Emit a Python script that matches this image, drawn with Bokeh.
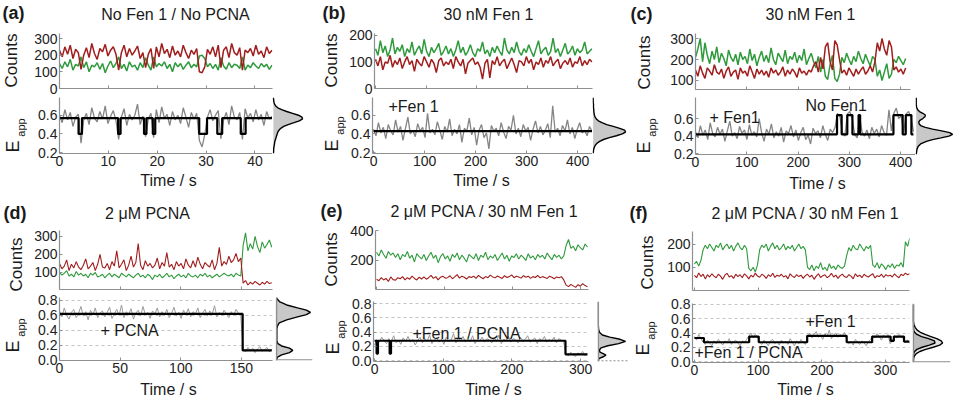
import numpy as np
from math import pi
from bokeh.plotting import figure
from bokeh.layouts import row, column
from bokeh.models import Label, Span, FixedTicker, PrintfTickFormatter, Range1d
from bokeh.embed import file_html
from bokeh.resources import INLINE

FONT = "Liberation Sans"
RED = "#a11d1d"
GREEN = "#2f9a3c"
AXIS = "#8f8f8f"
HISTFILL = "#c8c8c8"

# ---------------- data ----------------
# (a) No Fen1 / No PCNA
a_T = 43.5
a_red = [230,190,250,205,260,180,235,215,115,200, 245,185,270,210,175,240,220,265,195,230,
         250,205,110,215,260,190,240,200,225,255, 180,215,125,205,240,120,250,190,270,210,
         235,185,255,200,225,190,260,215,180,230, 205,240,100,95,130,235,205,250,190,260,
         125,230,250,185,270,215,200,245,110,230, 215,240,195,260,205,225,185,250,210,230]
a_green = [150,120,160,130,175,110,145,135,190,125, 160,100,140,130,155,115,150,95,135,165,
           125,150,190,120,145,105,160,130,140,110, 155,125,185,140,110,190,130,150,135,160,
           120,145,100,155,130,150,115,140,160,125, 145,130,195,200,180,130,150,120,145,110,
           185,135,115,155,125,145,140,120,190,110, 140,125,155,135,120,150,130,145,115,140]
a_eapp = [.60,.52,.66,.55,.63,.48,.58,.61,.30,.55, .62,.50,.68,.57,.53,.64,.56,.70,.51,.59,
          .65,.54,.34,.58,.67,.49,.61,.55,.60,.72, .50,.59,.37,.56,.62,.36,.66,.52,.69,.57,
          .61,.49,.64,.55,.60,.51,.68,.58,.47,.63, .56,.62,.33,.26,.39,.58,.66,.54,.60,.65,
          .35,.55,.63,.50,.70,.58,.55,.63,.34,.67, .57,.62,.53,.66,.55,.61,.49,.64,.56,.59]
a_step_t = [0,3.9,4.6,12.0,12.5,17.3,17.8,19.1,19.6,28.6,30.2,32.3,33.3,37.1,38.1,43.5]
a_step_e = [.57,.40,.57,.40,.57,.40,.57,.40,.57,.40,.57,.40,.57,.40,.57,.57]
a_hist_e = [.19,.22,.24,.26,.28,.30,.32,.34,.36,.38,.40,.42,.44,.46,.48,.50,.52,.54,.56,.58,
            .60,.62,.64,.66,.68,.70,.72,.74,.76,.79]
a_hist_d = [0,.01,.01,.02,.03,.04,.05,.07,.09,.11,.13,.15,.19,.25,.35,.50,.70,.88,.99,.97,
            .85,.65,.45,.28,.15,.08,.04,.02,.01,0]
a_xticks = [0,10,20,30,40]
a_cticks = [0,100,200,300]
a_eticks = [0.2,0.4,0.6]

# (b) 30 nM Fen1
b_T = 428
b_green = [150,125,180,135,160,120,145,190,130,155, 140,165,120,150,135,175,125,145,160,130,
           185,140,120,155,135,150,170,125,140,160, 130,150,120,145,180,135,155,125,140,165,
           135,120,150,140,175,130,145,120,155,135, 160,140,125,190,145,130,155,135,175,140,
           125,150,135,165,140,120,150,180,130,145, 155,125,140,190,135,150,120,145,170,130,
           140,160,125,150,135,145,175,130,140,150]
b_red = [110,85,120,70,100,95,125,80,105,90, 115,75,100,120,90,105,65,110,95,85,
         120,100,80,110,95,60,105,115,85,100, 90,110,75,120,100,85,110,55,95,105,
         115,90,100,80,35,95,110,40,105,90, 120,85,100,110,75,95,115,90,60,105,
         100,85,120,95,110,70,100,90,115,80, 105,95,120,85,100,110,75,95,105,90,
         115,80,100,95,120,85,105,90,110,100]
b_eapp = [.45,.38,.52,.41,.47,.35,.50,.43,.39,.55, .42,.48,.33,.46,.58,.40,.44,.37,.51,.43,
          .47,.36,.62,.41,.45,.39,.53,.44,.34,.48, .42,.56,.38,.45,.40,.50,.31,.46,.43,.57,
          .39,.47,.28,.44,.50,.36,.41,.24,.49,.43, .46,.38,.52,.42,.35,.48,.44,.60,.40,.46,
          .37,.50,.43,.47,.33,.45,.54,.41,.48,.39, .44,.51,.36,.70,.42,.46,.38,.49,.43,.55,
          .40,.47,.35,.45,.52,.41,.44,.38,.48,.43]
b_step_t = [0,428]
b_step_e = [.43,.43]
b_hist_e = a_hist_e
b_hist_d = [0,.01,.02,.04,.07,.12,.20,.32,.50,.72,.90,1.0,.97,.82,.62,.42,.27,.16,.10,.06,
            .04,.03,.02,.02,.01,.01,.01,0,0,0]
b_xticks = [0,100,200,300,400]
b_cticks = [0,100,200]
b_eticks = [0.2,0.4,0.6]

# (c) 30 nM Fen1
c_Tc = 410
c_Te = 425
c_green = [210,250,300,190,280,220,180,240,200,260, 185,230,205,170,245,210,190,225,175,235,
           200,215,180,250,195,225,170,210,240,190, 220,185,255,200,175,230,210,190,245,180,
           215,200,235,185,220,195,250,175,205,230, 190,160,215,140,200,120,105,175,220,110,
           95,130,210,185,230,200,175,215,190,240, 205,180,225,195,170,215,200,120,150,100,
           140,180,110,130,200,185,215,195,175,205]
c_red = [150,120,170,135,110,160,145,125,175,140, 130,155,110,145,165,120,140,150,105,160,
         135,145,120,170,140,110,155,130,150,125, 145,115,160,135,150,125,140,165,120,150,
         130,155,140,115,160,135,145,125,150,140, 170,190,140,210,155,260,280,190,150,290,
         270,200,135,150,125,160,140,120,155,130, 150,165,130,145,170,140,190,280,240,300,
         250,220,290,260,150,165,140,155,130,160]
c_eapp = [.45,.38,.52,.41,.47,.36,.55,.43,.39,.50, .42,.48,.34,.46,.57,.40,.44,.37,.51,.43,
          .47,.36,.53,.41,.45,.39,.60,.44,.34,.48, .42,.54,.38,.45,.40,.50,.33,.46,.43,.52,
          .39,.47,.35,.44,.50,.36,.41,.31,.49,.43, .46,.38,.52,.42,.35,.48,.44,.50,.66,.62,
          .44,.40,.65,.68,.60,.42,.38,.63,.45,.40, .47,.37,.50,.43,.48,.39,.52,.44,.41,.70,
          .46,.66,.72,.60,.63,.44,.65,.68,.62,.45]
c_step_t = [0,276,285,296,306,318,321,386,404,410,421,425]
c_step_e = [.42,.64,.42,.64,.42,.64,.42,.64,.42,.64,.42,.42]
c_hist_e = [.19,.22,.25,.28,.31,.34,.36,.38,.40,.42,.44,.46,.48,.50,.52,.54,.56,.58,.60,.62,
            .64,.66,.68,.70,.73,.76,.84]
c_hist_d = [0,.01,.02,.05,.12,.28,.45,.68,.90,1.0,.92,.70,.45,.25,.12,.08,.07,.10,.18,.24,
            .25,.18,.09,.04,.01,0,0]
c_xticks = [0,100,200,300,400]
c_cticks = [100,200,300]
c_eticks = [0.2,0.4,0.6]

# (d) 2 uM PCNA
d_T = 175
d_red = [150,120,135,170,110,145,125,160,130,115, 140,175,120,135,155,110,145,200,130,125,
         150,115,160,135,220,125,145,170,110,140, 190,130,155,260,140,115,165,135,150,125,
         140,180,120,155,135,210,130,145,115,160, 135,150,120,175,140,125,165,130,185,145,
         120,155,140,130,170,115,150,240,135,160, 145,190,155,170,205,160,180,40,55,30,
         45,35,50,40,30,45,35,50,38,42]
d_green = [100,85,95,110,80,90,75,105,85,95, 80,90,70,95,85,100,75,80,90,70,
           85,95,75,90,80,70,95,85,75,90, 80,70,85,95,75,85,70,90,80,60,
           85,75,90,70,80,95,75,85,65,80, 90,75,85,70,95,80,75,85,70,90,
           80,95,75,85,70,80,90,75,85,95, 85,80,90,75,95,85,80,250,320,220,
           260,230,300,245,210,270,235,255,280,240]
d_eapp = [.66,.58,.70,.60,.55,.64,.68,.57,.63,.72, .59,.65,.54,.67,.61,.70,.57,.63,.66,.58,
          .64,.71,.56,.62,.68,.60,.74,.57,.65,.61, .69,.55,.63,.67,.59,.72,.61,.64,.56,.66,
          .62,.70,.58,.65,.60,.68,.57,.63,.71,.59, .64,.56,.67,.61,.69,.58,.65,.62,.70,.57,
          .63,.68,.59,.66,.61,.73,.58,.64,.60,.67, .62,.57,.65,.60,.68,.63,.59,.15,.11,.17,
          .13,.16,.10,.15,.18,.12,.14,.17,.11,.15]
d_step_t = [0,151,175]
d_step_e = [.62,.13,.13]
d_hist_e = [0,.04,.07,.10,.13,.16,.19,.22,.26,.30,.34,.38,.42,.46,.50,.54,.58,.61,.64,.67,
            .70,.74,.78,.82,.84]
d_hist_d = [0,.03,.15,.38,.48,.38,.15,.04,.01,.01,.01,.01,.01,.03,.08,.30,.62,.88,1.0,.88,
            .62,.30,.10,.02,0]
d_xticks = [0,50,100,150]
d_cticks = [100,200,300]
d_eticks = [0.0,0.2,0.4,0.6,0.8]

# (e) 2 uM PCNA / 30 nM Fen1
e_T = 310
e_green = [255,230,270,240,215,260,235,250,220,245, 205,240,225,260,215,235,190,245,225,210,
           240,200,230,255,215,235,185,225,245,210, 230,195,240,220,250,205,235,215,190,240,
           225,210,245,200,235,220,255,205,230,215, 240,200,225,250,210,235,195,230,220,245,
           210,235,220,200,245,215,230,205,240,220, 235,210,250,225,205,240,220,235,210,230,
           300,340,280,295,265,305,285,270,310,290]
e_red = [75,65,85,70,80,60,90,72,68,85, 78,92,70,85,75,95,80,70,88,76,
         90,75,85,100,80,92,70,88,95,82, 85,98,78,90,105,82,95,88,76,92,
         86,95,80,100,88,78,92,85,102,90, 84,96,88,80,98,86,92,104,85,94,
         90,82,98,88,95,80,92,86,100,84, 92,86,80,95,88,78,90,84,92,70,
         35,25,40,30,20,38,28,45,32,25]
e_eapp = [.22,.30,.26,.33,.28,.24,.31,.27,.35,.25, .29,.23,.32,.27,.34,.26,.30,.22,.28,.33,
          .25,.31,.27,.36,.24,.29,.32,.26,.30,.23, .33,.27,.29,.38,.25,.31,.28,.34,.26,.30,
          .27,.35,.24,.30,.28,.33,.26,.31,.29,.25, .32,.27,.36,.24,.30,.28,.34,.26,.31,.29,
          .25,.33,.27,.30,.35,.26,.29,.32,.24,.31, .28,.34,.26,.30,.27,.33,.25,.31,.29,.27,
          .10,.07,.12,.08,.06,.11,.09,.13,.07,.10]
e_step_t = [0,3,5,22,24,278,310]
e_step_e = [.28,.10,.28,.10,.28,.09,.09]
e_hist_e = [0,.03,.06,.08,.10,.12,.15,.18,.21,.24,.27,.30,.33,.36,.40,.44,.50,.60,.70,.82]
e_hist_d = [0,.02,.20,.28,.18,.06,.04,.10,.35,.75,1.0,.80,.42,.15,.04,.01,0,0,0,0]
e_xticks = [0,100,200,300]
e_cticks = [200,400]
e_eticks = [0.0,0.2,0.4,0.6,0.8]

# (f) 2 uM PCNA / 30 nM Fen1
f_T = 338
f_green = [115,125,105,130,175,195,180,200,185,170, 195,185,205,175,190,200,180,195,170,190,
           205,185,175,195,180,95,85,100,80,110, 175,195,185,200,170,190,205,180,195,175,
           185,200,175,190,180,195,170,185,200,180, 190,175,100,90,110,85,105,95,120,90,
           100,85,115,95,105,90,110,100,95,105, 150,185,170,195,180,175,200,185,170,190,
           180,195,110,100,120,95,115,105,90,110, 100,115,95,110,105,120,100,210,190,225]
f_red = [65,55,75,60,70,50,68,58,72,62, 55,70,62,48,66,74,58,64,52,70,
         60,68,55,72,63,50,66,58,75,62, 57,70,64,52,68,60,74,56,66,61,
         70,58,64,50,72,62,56,68,60,66, 52,64,70,58,66,48,62,72,56,64,
         68,55,62,74,58,66,52,64,70,60, 56,68,62,50,72,60,66,55,70,62,
         58,66,72,54,64,60,70,56,68,62, 66,58,72,62,55,70,64,75,68,72]
f_eapp = [.35,.30,.38,.32,.27,.24,.30,.26,.22,.29, .25,.31,.27,.23,.29,.26,.32,.24,.28,.30,
          .26,.22,.29,.27,.31,.36,.40,.33,.38,.34, .27,.24,.30,.26,.22,.29,.31,.25,.28,.23,
          .30,.26,.28,.24,.32,.27,.22,.29,.25,.31, .27,.24,.35,.40,.33,.38,.42,.34,.37,.31,
          .39,.35,.44,.32,.37,.40,.34,.38,.36,.41, .30,.25,.28,.23,.31,.27,.24,.29,.26,.22,
          .28,.31,.36,.33,.39,.35,.30,.37,.34,.38, .25,.29,.36,.33,.38,.35,.32,.27,.30,.25]
f_step_t = [0,15,86,101,177,239,279,308,313,329,338]
f_step_e = [.33,.27,.35,.27,.36,.27,.35,.29,.35,.28,.28]
f_hist_e = [0,.05,.08,.11,.14,.17,.20,.23,.26,.29,.32,.35,.38,.41,.44,.48,.52,.56,.62,.70,.80]
f_hist_outer = [0,.01,.04,.10,.22,.42,.68,.90,1.0,.95,.80,.60,.40,.24,.13,.06,.02,0,0,0,0]
f_hist_inner = [0,0,0,.01,.04,.12,.30,.55,.74,.72,.52,.28,.12,.04,.01,0,0,0,0,0,0]
f_xticks = [0,100,200,300]
f_cticks = [100,200]
f_eticks = [0.0,0.2,0.4,0.6,0.8]

# ---------------- panel geometry / text ----------------
# hosts: "h" header strip, "s" left strip, "f" footer strip, "e" inside the E_app frame
PANELS = [
    dict(box=(0, 0, 320, 199), Hc=97, hH=26, fH=27, sW=27,
         cframe=(59, 272, 33, 88), eframe=(59, 272, 97, 153), hframe=(272, 318),
         cx=(0, 43.6), ex=(0, 43.6), cy=(0, 330), ey=(0.19, 0.79), hx=(-0.03, 1.53),
         Tc=a_T, Te=a_T, red=a_red, green=a_green, eapp=a_eapp, st=a_step_t, se=a_step_e,
         he=a_hist_e, hd=[a_hist_d], xt=a_xticks, ct=a_cticks, et=a_eticks, grid=False,
         hbase=None, light=False,
         texts=[("h", 2, 12, "(a)", 18, 0, "left", True),
                ("h", 175, 14, "No Fen 1 / No PCNA", 16, 0, "center", False),
                ("s", 11, 60, "Counts", 17, 90, "center", False),
                ("s", 12, 146, "E", 18, 90, "center", False),
                ("s", 20, 127, "app", 11, 90, "center", False),
                ("f", 168, 180, "Time / s", 16, 0, "center", False)]),
    dict(box=(320, 0, 308, 199), Hc=97, hH=26, fH=27, sW=26,
         cframe=(372, 592, 33, 88), eframe=(372, 592, 97, 153), hframe=(592, 627),
         cx=(-2, 429), ex=(-2, 429), cy=(0, 207), ey=(0.19, 0.79), hx=(-0.02, 1.06),
         Tc=b_T, Te=b_T, red=b_red, green=b_green, eapp=b_eapp, st=b_step_t, se=b_step_e,
         he=b_hist_e, hd=[b_hist_d], xt=b_xticks, ct=b_cticks, et=b_eticks, grid=False,
         hbase=None, light=False,
         texts=[("h", 322, 12, "(b)", 18, 0, "left", True),
                ("h", 488, 14, "30 nM Fen 1", 16, 0, "center", False),
                ("s", 331, 60, "Counts", 17, 90, "center", False),
                ("s", 331, 145, "E", 18, 90, "center", False),
                ("s", 339, 125, "app", 11, 90, "center", False),
                ("f", 481, 180, "Time / s", 16, 0, "center", False),
                ("e", 388, 106, "+Fen 1", 16, 0, "left", False)]),
    dict(box=(628, 0, 329, 199), Hc=93, hH=26, fH=26, sW=34,
         cframe=(695, 910, 33, 89), eframe=(695, 915, 97, 154), hframe=(915, 955),
         cx=(0, 419.5), ex=(0, 429), cy=(57, 324), ey=(0.19, 0.84), hx=(-0.02, 1.08),
         Tc=c_Tc, Te=c_Te, red=c_red, green=c_green, eapp=c_eapp, st=c_step_t, se=c_step_e,
         he=c_hist_e, hd=[c_hist_d], xt=c_xticks, ct=c_cticks, et=c_eticks, grid=False,
         hbase=None, light=False,
         texts=[("h", 630, 13, "(c)", 18, 0, "left", True),
                ("h", 810, 14, "30 nM Fen 1", 16, 0, "center", False),
                ("s", 644, 62, "Counts", 17, 90, "center", False),
                ("s", 643, 147, "E", 18, 90, "center", False),
                ("s", 651, 127, "app", 11, 90, "center", False),
                ("f", 817, 183, "Time / s", 16, 0, "center", False),
                ("e", 709, 117, "+ Fen1", 16, 0, "left", False),
                ("e", 805, 105, "No Fen1", 16, 0, "left", False)]),
    dict(box=(0, 199, 320, 199), Hc=92, hH=24, fH=19, sW=27,
         cframe=(59, 272, 230, 289), eframe=(59, 272, 297, 360), hframe=(275, 312),
         cx=(0, 175.6), ex=(0, 175.6), cy=(5, 333), ey=(-0.005, 0.84), hx=(-0.03, 1.06),
         Tc=d_T, Te=d_T, red=d_red, green=d_green, eapp=d_eapp, st=d_step_t, se=d_step_e,
         he=d_hist_e, hd=[d_hist_d], xt=d_xticks, ct=d_cticks, et=d_eticks, grid=True,
         hbase="solid", light=True,
         texts=[("h", 3, 212, "(d)", 18, 0, "left", True),
                ("h", 147, 213, "2 μM PCNA", 16, 0, "center", False),
                ("s", 16, 264, "Counts", 17, 90, "center", False),
                ("s", 12, 346, "E", 18, 90, "center", False),
                ("s", 20, 327, "app", 11, 90, "center", False),
                ("f", 168, 389, "Time / s", 16, 0, "center", False),
                ("e", 100, 330, "+ PCNA", 16, 0, "left", False)]),
    dict(box=(320, 199, 308, 199), Hc=92, hH=22, fH=18, sW=27,
         cframe=(373, 588, 230, 289), eframe=(373, 588, 301, 361), hframe=(597, 628),
         cx=(-1.5, 311.5), ex=(-1.5, 311.5), cy=(6, 400), ey=(-0.01, 0.828), hx=(-0.03, 1.11),
         Tc=e_T, Te=e_T, red=e_red, green=e_green, eapp=e_eapp, st=e_step_t, se=e_step_e,
         he=e_hist_e, hd=[e_hist_d], xt=e_xticks, ct=e_cticks, et=e_eticks, grid=True,
         hbase="dotted", light=True,
         texts=[("h", 320, 210, "(e)", 18, 0, "left", True),
                ("h", 484, 211, "2 μM PCNA / 30 nM Fen 1", 16, 0, "center", False),
                ("s", 331, 259, "Counts", 17, 90, "center", False),
                ("s", 332, 348, "E", 18, 90, "center", False),
                ("s", 340, 329, "app", 11, 90, "center", False),
                ("f", 493, 389, "Time / s", 16, 0, "center", False),
                ("e", 412, 333, "+Fen 1 / PCNA", 16, 0, "left", False)]),
    dict(box=(628, 199, 329, 199), Hc=93, hH=24, fH=17, sW=30,
         cframe=(692, 909, 231, 290), eframe=(692, 909, 303, 362), hframe=(912, 950),
         cx=(-3, 337.6), ex=(-3, 337.6), cy=(0, 254), ey=(-0.014, 0.814), hx=(-0.03, 1.27),
         Tc=f_T, Te=f_T, red=f_red, green=f_green, eapp=f_eapp, st=f_step_t, se=f_step_e,
         he=f_hist_e, hd=[f_hist_outer, f_hist_inner], xt=f_xticks, ct=f_cticks, et=f_eticks, grid=True,
         hbase="solid", light=True,
         texts=[("h", 629, 212, "(f)", 18, 0, "left", True),
                ("h", 805, 213, "2 μM PCNA / 30 nM Fen 1", 16, 0, "center", False),
                ("s", 647, 262, "Counts", 17, 90, "center", False),
                ("s", 642, 349, "E", 18, 90, "center", False),
                ("s", 650, 330, "app", 11, 90, "center", False),
                ("f", 805, 389, "Time / s", 16, 0, "center", False),
                ("e", 805, 321, "+Fen 1", 16, 0, "left", False),
                ("e", 694, 352, "+Fen 1 / PCNA", 16, 0, "left", False)]),
]


def style_axis(ax, ticks, labels=True, fmt=None):
    ax.axis_line_color = AXIS
    ax.axis_line_width = 1.2
    ax.major_tick_line_color = AXIS
    ax.minor_tick_line_color = AXIS
    ax.major_tick_in = 3
    ax.major_tick_out = 0
    ax.minor_tick_in = 3
    ax.minor_tick_out = 0
    ax.major_label_text_font = FONT
    ax.major_label_text_color = "#222222"
    ax.major_label_standoff = 2
    ax.major_label_text_font_size = "14px"
    if labels:
        ax.ticker = FixedTicker(ticks=ticks, minor_ticks=[])
        if fmt:
            ax.formatter = PrintfTickFormatter(format=fmt)
    else:
        # tick marks only (drawn as minor ticks, which carry no labels)
        ax.ticker = FixedTicker(ticks=[], minor_ticks=ticks)
        ax.major_label_standoff = 0


def text_fig(w, h):
    f = figure(width=w, height=h, x_range=Range1d(0, 1), y_range=Range1d(0, 1),
               x_axis_location=None, y_axis_location=None,
               output_backend="svg", toolbar_location=None, min_border=0)
    f.outline_line_color = None
    f.grid.visible = False
    return f


def add_text(fig, fx, fy, t):
    _, px, py, text, size, ang, align, bold = t
    fig.add_layout(Label(x=px - fx, y=fy - py, x_units="screen", y_units="screen",
                         text=text, text_font=FONT, text_font_size=f"{size}px",
                         text_color="#1a1a1a", angle=ang * pi / 180, text_align=align,
                         text_baseline="middle", text_font_style="bold" if bold else "normal"))


def build(P):
    x0, y0, W, H = P["box"]
    cx1, cx2, cy1, cy2 = P["cframe"]
    ex1, ex2, ey1, ey2 = P["eframe"]
    hx1, hx2 = P["hframe"]
    Hc, hH, fH, sW = P["Hc"], P["hH"], P["fH"], P["sW"]

    header = text_fig(W, hH)
    footer = text_fig(W, fH)
    strip = text_fig(sW, H - hH - fH)

    # counts plot
    cW = W - sW
    cH = Hc - hH
    cL, cT = cx1 - x0 - sW, cy1 - y0 - hH
    cFW, cFH = cx2 - cx1, cy2 - cy1
    cp = figure(width=cW, height=cH, x_range=Range1d(*P["cx"]), y_range=Range1d(*P["cy"]),
                output_backend="svg", toolbar_location=None,
                min_border_left=cL, min_border_right=cW - cL - cFW,
                min_border_top=cT, min_border_bottom=cH - cT - cFH)
    cp.outline_line_color = None
    cp.grid.visible = False
    tc = np.linspace(0, P["Tc"], len(P["red"]))
    lw = 1.1 if P["light"] else 1.5
    cp.line(tc, P["green"], line_color=GREEN, line_width=lw)
    cp.line(tc, P["red"], line_color=RED, line_width=lw)
    style_axis(cp.xaxis[0], P["xt"], labels=False)
    style_axis(cp.yaxis[0], P["ct"])

    # E_app plot
    eW = hx1 - x0 - sW
    eH = H - Hc - fH
    eL, eT = ex1 - x0 - sW, ey1 - (y0 + Hc)
    eFW, eFH = ex2 - ex1, ey2 - ey1
    yr = Range1d(*P["ey"])
    ep = figure(width=eW, height=eH, x_range=Range1d(*P["ex"]), y_range=yr,
                output_backend="svg", toolbar_location=None,
                min_border_left=eL, min_border_right=eW - eL - eFW,
                min_border_top=eT, min_border_bottom=eH - eT - eFH)
    ep.outline_line_color = None
    ep.xgrid.visible = False
    if P["grid"]:
        ep.ygrid.ticker = FixedTicker(ticks=P["et"])
        ep.ygrid.grid_line_color = "#c4c4c4"
        ep.ygrid.grid_line_dash = "3 3"
    else:
        ep.ygrid.visible = False
    te = np.linspace(0, P["Te"], len(P["eapp"]))
    ep.line(te, P["eapp"], line_color="#9b9b9b" if P["light"] else "#858585",
            line_width=1.0 if P["light"] else 1.3)
    ep.step(P["st"], P["se"], mode="after", line_color="black", line_width=2.2)
    style_axis(ep.xaxis[0], P["xt"])
    style_axis(ep.yaxis[0], P["et"], fmt="%.1f")

    # histogram
    hW = W - sW - eW
    hFW = hx2 - hx1
    hp = figure(width=hW, height=eH, x_range=Range1d(*P["hx"]), y_range=yr,
                x_axis_location=None, y_axis_location=None,
                output_backend="svg", toolbar_location=None,
                min_border_left=0, min_border_right=hW - hFW,
                min_border_top=eT, min_border_bottom=eH - eT - eFH)
    hp.outline_line_color = None
    hp.grid.visible = False
    if P["hbase"] is not None:
        hp.add_layout(Span(location=0, dimension="height", line_color=AXIS, line_width=1.5))
        hp.add_layout(Span(location=P["ey"][0] + 0.008, dimension="width", line_color=AXIS, line_width=1.2,
                           line_dash="2 2" if P["hbase"] == "dotted" else "solid"))
    fills = ["#e2e2e2", "#bdbdbd"] if len(P["hd"]) > 1 else [HISTFILL]
    for dvals, fc in zip(P["hd"], fills):
        hp.harea(y=P["he"], x1=np.zeros(len(dvals)), x2=dvals, fill_color=fc)
        hp.line(dvals, P["he"], line_color="black", line_width=1.4)

    for t in P["texts"]:
        host = t[0]
        if host == "h":
            add_text(header, x0, y0 + hH, t)
        elif host == "s":
            add_text(strip, x0, y0 + H - fH, t)
        elif host == "f":
            add_text(footer, x0, y0 + H, t)
        else:
            add_text(ep, ex1, ey2, t)

    middle = row(strip, column(cp, row(ep, hp, spacing=0), spacing=0), spacing=0)
    return column(header, middle, footer, spacing=0)


panels = [build(P) for P in PANELS]
layout = column(row(*panels[:3], spacing=0), row(*panels[3:], spacing=0), spacing=0)

open("out.html", "w").write(file_html(layout, INLINE))
